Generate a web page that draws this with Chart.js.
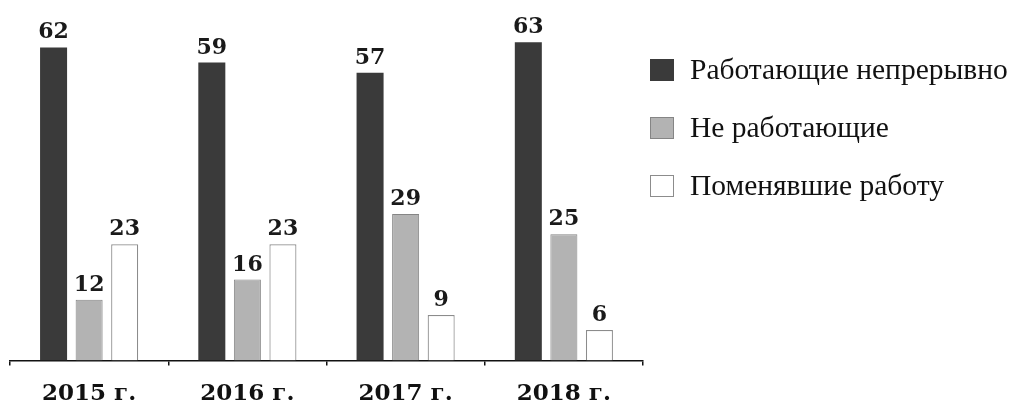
<!DOCTYPE html>
<html lang="ru">
<head>
<meta charset="utf-8">
<title>Занятость выпускников</title>
<script src="https://cdn.jsdelivr.net/npm/chart.js@4.4.1/dist/chart.umd.min.js"></script>
<style>
    html, body { margin: 0; padding: 0; background: #fff; }
    #wrap { width: 1010px; height: 410px; position: relative; }
</style>
</head>
<body>
<div id="wrap"><canvas id="chart"></canvas></div>
<script>
// data
const years = ['2015 г.', '2016 г.', '2017 г.', '2018 г.'];
const working = [62, 59, 57, 63];
const notWorking = [12, 16, 29, 25];
const changedJob = [23, 23, 9, 6];

const seriesNames = ['Работающие непрерывно', 'Не работающие', 'Поменявшие работу'];

const numberFont = '"DejaVu Serif", serif';
const textFont = '"Liberation Serif", "Times New Roman", serif';

// value labels above each bar
const valueLabels = {
    id: 'valueLabels',
    afterDatasetsDraw(chart) {
        const { ctx } = chart;
        ctx.save();
        ctx.font = `bold 22px ${numberFont}`;
        ctx.fillStyle = '#1a1a1a';
        ctx.textAlign = 'center';
        ctx.textBaseline = 'alphabetic';
        chart.data.datasets.forEach((ds, i) => {
            chart.getDatasetMeta(i).data.forEach((bar, j) => {
                ctx.fillText(String(ds.data[j]), bar.x, bar.y - 9);
            });
        });
        ctx.restore();
    }
};

// legend on the right, drawn next to the plot area
const sideLegend = {
    id: 'sideLegend',
    afterDraw(chart) {
        const { ctx, chartArea } = chart;
        const x0 = chartArea.right + 7;
        ctx.save();
        ctx.font = `29.5px ${textFont}`;
        ctx.textBaseline = 'middle';
        ctx.textAlign = 'left';
        chart.data.datasets.forEach((ds, i) => {
            const cy = chartArea.top + 63 + i * 58;
            ctx.fillStyle = ds.backgroundColor;
            ctx.fillRect(x0, cy - 11, 24, 22);
            if (ds.borderWidth) {
                ctx.strokeStyle = ds.borderColor;
                ctx.lineWidth = 1;
                ctx.strokeRect(x0 + 0.5, cy - 10.5, 23, 21);
            }
            ctx.fillStyle = '#111';
            ctx.fillText(ds.label, x0 + 40, cy + 1);
        });
        ctx.restore();
    }
};

new Chart(document.getElementById('chart'), {
    type: 'bar',
    data: {
        labels: years,
        datasets: [
            { label: seriesNames[0], data: working, backgroundColor: '#3a3a3a', borderWidth: 0 },
            { label: seriesNames[1], data: notWorking, backgroundColor: '#b3b3b3', borderColor: '#858585', borderWidth: 1 },
            { label: seriesNames[2], data: changedJob, backgroundColor: '#ffffff', borderColor: '#8c8c8c', borderWidth: 1.2 }
        ]
    },
    options: {
        responsive: true,
        maintainAspectRatio: false,
        animation: false,
        layout: { padding: { left: 10, right: 367, top: 7, bottom: -13 } },
        datasets: {
            bar: { categoryPercentage: 0.674, barPercentage: 0.76 }
        },
        plugins: {
            legend: { display: false },
            tooltip: { enabled: false }
        },
        scales: {
            x: {
                offset: true,
                grid: {
                    display: true,
                    offset: true,
                    drawOnChartArea: false,
                    drawTicks: true,
                    tickLength: 5,
                    color: '#111',
                    lineWidth: 1.5
                },
                border: { display: true, color: '#111', width: 1.5 },
                ticks: {
                    color: '#111',
                    padding: 15,
                    font: { family: numberFont, size: 23, weight: 'bold' }
                }
            },
            y: {
                display: false,
                min: 0,
                max: 70
            }
        }
    },
    plugins: [valueLabels, sideLegend]
});
</script>
</body>
</html>
